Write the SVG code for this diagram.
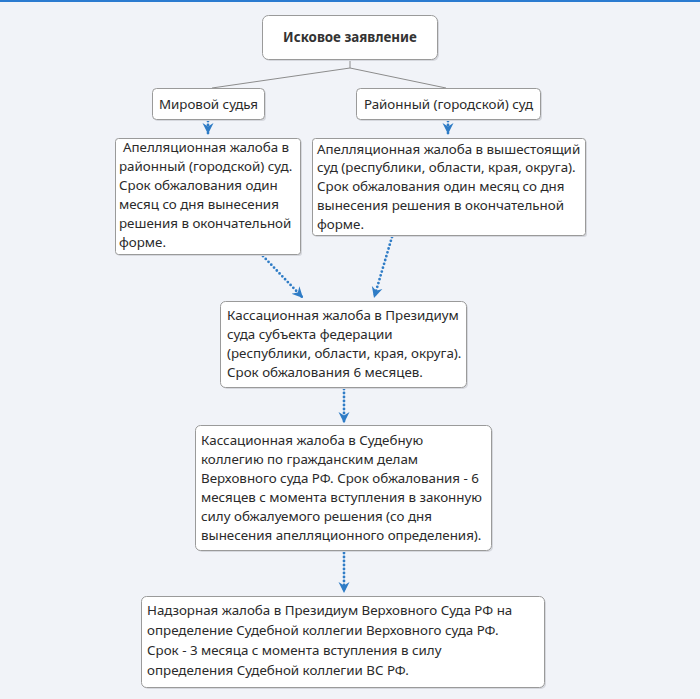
<svg xmlns="http://www.w3.org/2000/svg" width="700" height="699" viewBox="0 0 700 699">
<defs>
<style>
.bg{fill:#f1f3f8}
.box{fill:#ffffff;stroke:#9a9a9a;stroke-width:1}
.shadow{fill:#d6d8de}
.t{font-family:"Noto Sans","Open Sans","DejaVu Sans",sans-serif;font-size:13.35px;fill:#2a2a2a}
.tb{font-family:"Noto Sans","Open Sans","DejaVu Sans",sans-serif;font-size:13.35px;font-weight:bold;fill:#333}
.tree{stroke:#8c8c8c;stroke-width:1;fill:none}
.dot{stroke:#2f7cc6;stroke-width:2.8;stroke-linecap:round;stroke-dasharray:0 4;fill:none}
</style>
<marker id="ah" markerUnits="userSpaceOnUse" markerWidth="12" markerHeight="12" viewBox="0 0 12 12" refX="11" refY="6" orient="auto">
<path d="M0,0.5 L11,6 L0,11.5 L3.5,6 z" fill="#2f7cc6"/>
</marker>
</defs>
<rect class="bg" x="0" y="0" width="700" height="699"/>
<rect x="0" y="0" width="700" height="2" fill="#2b7bd0"/>

<g id="connectors">
<path class="tree" d="M350,59 V68 M350,68 L212,88 M350,68 L446,88"/>
<path class="dot" d="M208,121 V134" marker-end="url(#ah)"/>
<path class="dot" d="M448,121 V134" marker-end="url(#ah)"/>
<path class="dot" d="M263,256 L303,298" marker-end="url(#ah)"/>
<path class="dot" d="M392,237 L374,298" marker-end="url(#ah)"/>
<path class="dot" d="M344,389 V423" marker-end="url(#ah)"/>
<path class="dot" d="M344,553 V593" marker-end="url(#ah)"/>
</g>

<g id="root">
<rect class="shadow" x="264" y="17" width="175" height="44" rx="6"/>
<rect class="box" x="262.5" y="15.5" width="175" height="44" rx="6"/>
<text class="tb" x="350" y="42" text-anchor="middle">Исковое заявление</text>
</g>

<g id="mirovoy">
<rect class="shadow" x="154" y="90" width="112" height="31" rx="4"/>
<rect class="box" x="152.5" y="88.5" width="112" height="31" rx="4"/>
<text class="t" x="208.5" y="109" text-anchor="middle">Мировой судья</text>
</g>

<g id="rayonny">
<rect class="shadow" x="358" y="90" width="184" height="31" rx="4"/>
<rect class="box" x="356.5" y="88.5" width="184" height="31" rx="4"/>
<text class="t" x="448.5" y="109" text-anchor="middle">Районный (городской) суд</text>
</g>

<g id="appeal1">
<rect class="shadow" x="117" y="140" width="185" height="116" rx="3"/>
<rect class="box" x="115.5" y="138.5" width="185" height="116" rx="3"/>
<text class="t" x="123" y="152">Апелляционная жалоба в</text>
<text class="t" x="119" y="171">районный (городской) суд.</text>
<text class="t" x="119" y="190">Срок обжалования один</text>
<text class="t" x="119" y="209">месяц со дня вынесения</text>
<text class="t" x="119" y="228">решения в окончательной</text>
<text class="t" x="119" y="247">форме.</text>
</g>

<g id="appeal2">
<rect class="shadow" x="314" y="140" width="273" height="97" rx="3"/>
<rect class="box" x="312.5" y="138.5" width="273" height="97" rx="3"/>
<text class="t" x="317" y="154">Апелляционная жалоба в вышестоящий</text>
<text class="t" x="317" y="172">суд (республики, области, края, округа).</text>
<text class="t" x="317" y="191">Срок обжалования один месяц со дня</text>
<text class="t" x="317" y="210">вынесения решения в окончательной</text>
<text class="t" x="317" y="229">форме.</text>
</g>

<g id="cassation1">
<rect class="shadow" x="222" y="303" width="246" height="86" rx="5"/>
<rect class="box" x="220.5" y="301.5" width="246" height="86" rx="5"/>
<text class="t" x="227" y="320">Кассационная жалоба в Президиум</text>
<text class="t" x="227" y="339">суда субъекта федерации</text>
<text class="t" x="227" y="358">(республики, области, края, округа).</text>
<text class="t" x="227" y="377">Срок обжалования 6 месяцев.</text>
</g>

<g id="cassation2">
<rect class="shadow" x="197" y="427" width="296" height="125" rx="5"/>
<rect class="box" x="195.5" y="425.5" width="296" height="125" rx="5"/>
<text class="t" x="201" y="445">Кассационная жалоба в Судебную</text>
<text class="t" x="201" y="464">коллегию по гражданским делам</text>
<text class="t" x="201" y="483">Верховного суда РФ. Срок обжалования - 6</text>
<text class="t" x="201" y="502">месяцев с момента вступления в законную</text>
<text class="t" x="201" y="521">силу обжалуемого решения (со дня</text>
<text class="t" x="201" y="540">вынесения апелляционного определения).</text>
</g>

<g id="supervisory">
<rect class="shadow" x="143" y="598" width="403" height="91" rx="5"/>
<rect class="box" x="141.5" y="596.5" width="403" height="91" rx="5"/>
<text class="t" x="147" y="615">Надзорная жалоба в Президиум Верховного Суда РФ на</text>
<text class="t" x="147" y="635">определение Судебной коллегии Верховного суда РФ.</text>
<text class="t" x="147" y="655">Срок - 3 месяца с момента вступления в силу</text>
<text class="t" x="147" y="675">определения Судебной коллегии ВС РФ.</text>
</g>
</svg>
